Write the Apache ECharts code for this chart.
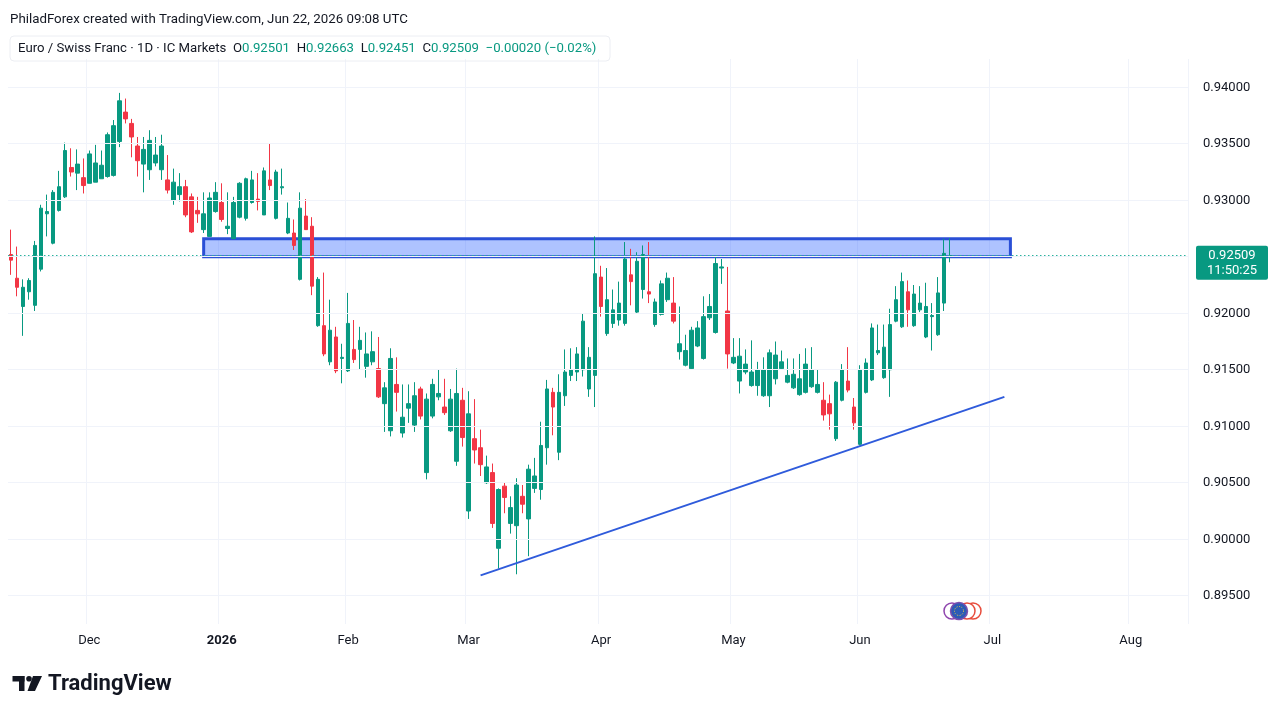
<!DOCTYPE html>
<html>
<head>
<meta charset="utf-8">
<script src="https://cdn.jsdelivr.net/npm/echarts@6/dist/echarts.min.js"></script>
<style>
html,body{margin:0;padding:0;background:#ffffff;}
#chart{width:1280px;height:720px;}
</style>
</head>
<body>
<div id="chart"></div>
<script>
// ---- categories (trading days) ----
const dates = [
'2025-11-12','2025-11-13','2025-11-14','2025-11-17','2025-11-18','2025-11-19','2025-11-20','2025-11-21','2025-11-24','2025-11-25','2025-11-26','2025-11-27','2025-11-28',
'2025-12-01','2025-12-02','2025-12-03','2025-12-04','2025-12-05','2025-12-08','2025-12-09','2025-12-10','2025-12-11','2025-12-12','2025-12-15','2025-12-16','2025-12-17','2025-12-18','2025-12-19','2025-12-22','2025-12-23','2025-12-24','2025-12-26','2025-12-29','2025-12-30','2025-12-31',
'2026-01-02','2026-01-05','2026-01-06','2026-01-07','2026-01-08','2026-01-09','2026-01-12','2026-01-13','2026-01-14','2026-01-15','2026-01-16','2026-01-19','2026-01-20','2026-01-21','2026-01-22','2026-01-23','2026-01-26','2026-01-27','2026-01-28','2026-01-29','2026-01-30',
'2026-02-02','2026-02-03','2026-02-04','2026-02-05','2026-02-06','2026-02-09','2026-02-10','2026-02-11','2026-02-12','2026-02-13','2026-02-16','2026-02-17','2026-02-18','2026-02-19','2026-02-20','2026-02-23','2026-02-24','2026-02-25','2026-02-26','2026-02-27',
'2026-03-02','2026-03-03','2026-03-04','2026-03-05','2026-03-06','2026-03-09','2026-03-10','2026-03-11','2026-03-12','2026-03-13','2026-03-16','2026-03-17','2026-03-18','2026-03-19','2026-03-20','2026-03-23','2026-03-24','2026-03-25','2026-03-26','2026-03-27','2026-03-30','2026-03-31',
'2026-04-01','2026-04-02','2026-04-03','2026-04-06','2026-04-07','2026-04-08','2026-04-09','2026-04-10','2026-04-13','2026-04-14','2026-04-15','2026-04-16','2026-04-17','2026-04-20','2026-04-21','2026-04-22','2026-04-23','2026-04-24','2026-04-27','2026-04-28','2026-04-29','2026-04-30',
'2026-05-01','2026-05-04','2026-05-05','2026-05-06','2026-05-07','2026-05-08','2026-05-11','2026-05-12','2026-05-13','2026-05-14','2026-05-15','2026-05-18','2026-05-19','2026-05-20','2026-05-21','2026-05-22','2026-05-25','2026-05-26','2026-05-27','2026-05-28','2026-05-29',
'2026-06-01','2026-06-02','2026-06-03','2026-06-04','2026-06-05','2026-06-08','2026-06-09','2026-06-10','2026-06-11','2026-06-12','2026-06-15','2026-06-16','2026-06-17','2026-06-18','2026-06-19','2026-06-22'
];
const futureDates = [
'2026-06-23','2026-06-24','2026-06-25','2026-06-26','2026-06-29','2026-06-30',
'2026-07-01','2026-07-02','2026-07-03','2026-07-06','2026-07-07','2026-07-08','2026-07-09','2026-07-10','2026-07-13','2026-07-14','2026-07-15','2026-07-16','2026-07-17','2026-07-20','2026-07-21','2026-07-22','2026-07-23','2026-07-24','2026-07-27','2026-07-28','2026-07-29','2026-07-30','2026-07-31',
'2026-08-03','2026-08-04','2026-08-05','2026-08-06','2026-08-07','2026-08-10','2026-08-11','2026-08-12','2026-08-13','2026-08-14'
];

// ---- OHLC values ----
const opens = [
.9252,.9231,.9206,.9219,.9207,.9239,.9288,.9262,.9291,.9303,.9329,.9324,.9320,
.9315,.9316,.9319,.9321,.9322,.9352,.9378,.9368,.9348,.9332,.9327,.9333,.9327,.9318,.9300,.9305,.9312,.9303,.9291,.9274,.9268,.9290,
.9298,.9275,.9266,.9285,.9284,.9298,.9301,.9287,.9318,.9284,.9311,.9271,.9271,.9230,.9286,.9277,.9189,.9189,.9157,.9179,.9160,
.9149,.9168,.9168,.9153,.9157,.9151,.9120,.9096,.9137,.9094,.9116,.9101,.9133,.9059,.9109,.9126,.9117,.9096,.9069,.9123,
.9025,.9089,.9081,.9050,.9059,.8992,.9047,.9014,.9012,.9038,.9018,.9045,.9044,.9081,.9130,.9077,.9127,.9145,.9148,.9150,.9133,.9145,
.9232,.9182,.9191,.9194,.9191,.9234,.9201,.9221,.9219,.9190,.9199,.9212,.9209,.9166,.9154,.9151,.9171,.9160,.9196,.9183,.9240,.9202,
.9156,.9140,.9148,.9136,.9136,.9127,.9127,.9142,.9151,.9139,.9134,.9128,.9130,.9135,.9130,.9123,.9120,.9089,.9123,.9140,.9117,
.9084,.9130,.9141,.9165,.9143,.9150,.9193,.9188,.9219,.9189,.9203,.9179,.9197,.9181,.9209,.92501
];
const closes = [
.9247,.9223,.9223,.9229,.9260,.9293,.9290,.9307,.9312,.9344,.9325,.9332,.9313,
.9341,.9333,.9331,.9358,.9366,.9388,.9372,.9356,.9335,.9345,.9353,.9340,.9348,.9309,.9316,.9312,.9287,.9272,.9288,.9288,.9302,.9307,
.9283,.9277,.9298,.9315,.9319,.9318,.9299,.9326,.9313,.9325,.9312,.9284,.9260,.9293,.9274,.9224,.9230,.9164,.9185,.9149,.9161,
.9191,.9159,.9176,.9164,.9166,.9126,.9134,.9160,.9130,.9108,.9120,.9127,.9109,.9124,.9137,.9129,.9112,.9124,.9129,.9090,
.9111,.9079,.9066,.9064,.9014,.9044,.9037,.9028,.9048,.9031,.9062,.9056,.9083,.9133,.9117,.9130,.9148,.9150,.9164,.9193,.9161,.9235,
.9206,.9212,.9203,.9209,.9248,.9228,.9246,.9252,.9217,.9210,.9226,.9231,.9193,.9173,.9167,.9185,.9187,.9197,.9206,.9244,.9241,.9164,
.9161,.9162,.9155,.9148,.9150,.9150,.9165,.9163,.9157,.9145,.9146,.9142,.9155,.9150,.9137,.9110,.9111,.9139,.9150,.9132,.9103,
.9150,.9156,.9187,.9167,.9170,.9190,.9212,.9228,.9203,.9217,.9209,.9206,.9198,.9218,.9253,.92509
];
const lows = [
.9234,.9215,.9180,.9212,.9202,.9237,.9268,.9261,.9290,.9302,.9321,.9309,.9306,
.9315,.9316,.9319,.9320,.9321,.9347,.9368,.9338,.9321,.9307,.9318,.9330,.9318,.9306,.9296,.9299,.9285,.9271,.9280,.9271,.9268,.9289,
.9281,.9270,.9266,.9284,.9282,.9297,.9291,.9287,.9309,.9283,.9305,.9270,.9256,.9229,.9274,.9216,.9188,.9162,.9154,.9147,.9138,
.9148,.9156,.9150,.9143,.9154,.9125,.9095,.9091,.9113,.9090,.9103,.9095,.9106,.9053,.9107,.9123,.9110,.9095,.9065,.9082,
.9018,.9067,.9056,.9049,.9010,.8974,.9023,.9005,.8969,.9023,.8985,.9041,.9035,.9066,.9092,.9070,.9118,.9140,.9140,.9144,.9126,.9117,
.9197,.9180,.9187,.9189,.9189,.9207,.9200,.9213,.9209,.9188,.9198,.9210,.9191,.9159,.9153,.9150,.9170,.9159,.9194,.9182,.9226,.9151,
.9155,.9129,.9146,.9135,.9127,.9126,.9117,.9137,.9150,.9138,.9133,.9127,.9129,.9134,.9129,.9105,.9097,.9087,.9122,.9130,.9097,
.9083,.9129,.9140,.9163,.9142,.9126,.9192,.9187,.9188,.9188,.9201,.9178,.9167,.9180,.9202,.92451
];
const highs = [
.9274,.9259,.9230,.9231,.9264,.9296,.9305,.9309,.9326,.9351,.9346,.9345,.9337,
.9344,.9349,.9344,.9360,.9371,.9395,.9390,.9372,.9356,.9356,.9362,.9356,.9358,.9340,.9328,.9324,.9318,.9306,.9303,.9307,.9307,.9316,
.9315,.9307,.9303,.9316,.9320,.9326,.9324,.9329,.9350,.9327,.9328,.9298,.9283,.9307,.9301,.9285,.9232,.9236,.9212,.9188,.9173,
.9218,.9194,.9188,.9183,.9184,.9179,.9139,.9169,.9161,.9137,.9137,.9139,.9135,.9129,.9142,.9150,.9142,.9133,.9151,.9134,
.9131,.9124,.9097,.9074,.9067,.9045,.9050,.9038,.9054,.9048,.9066,.9072,.9104,.9141,.9134,.9146,.9168,.9169,.9170,.9200,.9170,.9268,
.9242,.9240,.9221,.9228,.9263,.9257,.9254,.9260,.9263,.9213,.9229,.9236,.9232,.9206,.9181,.9188,.9193,.9215,.9217,.9250,.9248,.9241,
.9178,.9178,.9168,.9176,.9157,.9161,.9168,.9175,.9167,.9160,.9160,.9164,.9169,.9170,.9150,.9139,.9128,.9140,.9155,.9170,.9125,
.9154,.9160,.9191,.9190,.9190,.9204,.9224,.9236,.9229,.9225,.9224,.9227,.9209,.9232,.9266,.92663
];

// ---- tick labels ----
const monthStarts = ['2025-12-01','2026-01-02','2026-02-02','2026-03-02','2026-04-01','2026-05-01','2026-06-01','2026-07-01','2026-08-03'];
const monthLabels = ['Dec','2026','Feb','Mar','Apr','May','Jun','Jul','Aug'];
const priceTicks = [0.895,0.900,0.905,0.910,0.915,0.920,0.925,0.930,0.935,0.940];

// ---- annotations (data space) ----
const lastPrice = 0.92509;
const countdown = '11:50:25';
const zoneStart = '2025-12-29', zoneEnd = '2026-07-06';
const zoneTop = 0.9266, zoneBottom = 0.9250;
const trendStart = ['2026-03-04', 0.8968];
const trendEnd = ['2026-07-03', 0.9126];

const headerText = 'PhiladForex created with TradingView.com, Jun 22, 2026 09:08 UTC';
const symbolText = 'Euro / Swiss Franc · 1D · IC Markets';
const ohlcText = ['0.92501','0.92663','0.92451','0.92509'];
const changeText = '−0.00020 (−0.02%)';

const UP = '#089981', DOWN = '#f23645';
const FONT = 'Roboto, "Noto Sans", sans-serif';

const allDates = dates.concat(futureDates);
const candleData = dates.map((d, i) => [opens[i], closes[i], lows[i], highs[i]]);
const monthMap = {};
monthStarts.forEach((d, i) => { monthMap[d] = monthLabels[i]; });
const isMonthStart = (idx, val) => monthMap[val] !== undefined;

const gridLines = priceTicks.map(p => ({yAxis: p, lineStyle: {color: '#f0f3fa', width: 1, type: 'solid'}}));
gridLines.push({yAxis: lastPrice, lineStyle: {color: '#2bb39c', width: 1, type: [1.5, 2.5]}});

const chart = echarts.init(document.getElementById('chart'), null, {renderer: 'canvas'});
chart.setOption({
  animation: false,
  backgroundColor: '#ffffff',
  grid: {left: 8, right: 92, top: 59, bottom: 96},
  xAxis: {
    type: 'category',
    data: allDates,
    boundaryGap: true,
    axisLine: {show: false},
    axisTick: {show: false},
    axisLabel: {
      interval: isMonthStart,
      margin: 10,
      fontFamily: FONT,
      fontSize: 13,
      color: '#131722',
      formatter: v => v === '2026-01-02' ? '{b|2026}' : (monthMap[v] || ''),
      rich: {b: {fontWeight: 'bold', fontFamily: FONT, fontSize: 13, color: '#131722'}}
    },
    splitLine: {show: true, interval: isMonthStart, lineStyle: {color: '#f0f3fa', width: 1}}
  },
  yAxis: {
    type: 'value',
    position: 'right',
    min: 0.8925,
    max: 0.9425,
    interval: 0.0025,
    axisLine: {show: false},
    axisTick: {show: false},
    splitLine: {show: false},
    axisLabel: {
      margin: 15,
      fontFamily: FONT,
      fontSize: 13,
      color: '#131722',
      formatter: v => (Math.round(v * 10000) % 50 === 0) ? v.toFixed(5) : ''
    }
  },
  series: [
    {
      type: 'line',
      data: [],
      z: 1,
      silent: true,
      markLine: {
        silent: true,
        precision: 6,
        symbol: ['none', 'none'],
        label: {show: false},
        data: gridLines
      }
    },
    {
      type: 'candlestick',
      data: candleData,
      barWidth: '68%',
      z: 3,
      itemStyle: {color: UP, color0: DOWN, borderColor: UP, borderColor0: DOWN, borderWidth: 1},
      markArea: {
        silent: true,
        itemStyle: {color: 'rgba(41,98,255,0.38)', borderColor: '#2a4fd6', borderWidth: 3},
        data: [[{coord: [zoneStart, zoneTop]}, {coord: [zoneEnd, zoneBottom]}]]
      },
      markLine: {
        silent: true,
        precision: 6,
        symbol: ['none', 'none'],
        label: {show: false},
        data: [
          [{coord: trendStart, lineStyle: {color: '#2f5bdb', width: 2, type: 'solid'}}, {coord: trendEnd}]
        ]
      }
    }
  ]
});

const py = chart.convertToPixel({yAxisIndex: 0}, lastPrice);
chart.setOption({
  graphic: [
    {type: 'text', left: 10, top: 13, style: {text: headerText, font: '13.3px ' + FONT, fill: '#131722'}},
    {type: 'rect', shape: {x: 10, y: 36, width: 600, height: 25, r: 4}, style: {fill: 'none', stroke: '#eceef3', lineWidth: 1}},
    {type: 'text', x: 18, y: 48.5, style: {
      text: '{s|' + symbolText + '}  {s|O}{g|' + ohlcText[0] + '}  {s|H}{g|' + ohlcText[1] + '}  {s|L}{g|' + ohlcText[2] + '}  {s|C}{g|' + ohlcText[3] + '}  {g|' + changeText + '}',
      verticalAlign: 'middle',
      rich: {
        s: {font: '13.2px ' + FONT, fill: '#131722'},
        g: {font: '13.2px ' + FONT, fill: UP}
      }
    }},
    {type: 'rect', z: 100, shape: {x: 1196, y: py - 10, width: 72, height: 34, r: 2}, style: {fill: UP}},
    {type: 'text', z: 101, x: 1232, y: py, style: {text: lastPrice.toFixed(5), font: '13px ' + FONT, fill: '#ffffff', align: 'center', verticalAlign: 'middle'}},
    {type: 'text', z: 101, x: 1232, y: py + 15, style: {text: countdown, font: '13px ' + FONT, fill: '#ffffff', align: 'center', verticalAlign: 'middle'}},
    // event icons on time scale
    {type: 'circle', shape: {cx: 973, cy: 611, r: 8}, style: {fill: '#ffffff', stroke: '#e74c3c', lineWidth: 1.5}},
    {type: 'circle', shape: {cx: 967, cy: 611, r: 8}, style: {fill: '#ffffff', stroke: '#e74c3c', lineWidth: 1.5}},
    {type: 'circle', shape: {cx: 952, cy: 611, r: 8}, style: {fill: '#ffffff', stroke: '#8e44ad', lineWidth: 1.5}},
    {type: 'circle', shape: {cx: 959, cy: 611, r: 8.5}, style: {fill: '#2d5bb5', stroke: '#7d4fae', lineWidth: 1.5}},
    {type: 'circle', shape: {cx: 959, cy: 611, r: 4.5}, style: {fill: 'none', stroke: '#f4d03f', lineWidth: 1, lineDash: [1, 1.6]}},
    // TradingView logo
    {type: 'rect', shape: {x: 12.5, y: 676, width: 12, height: 5.5}, style: {fill: '#131722'}},
    {type: 'rect', shape: {x: 19, y: 676, width: 5.5, height: 15}, style: {fill: '#131722'}},
    {type: 'circle', shape: {cx: 29, cy: 678.8, r: 2.8}, style: {fill: '#131722'}},
    {type: 'polygon', shape: {points: [[33, 676], [42, 676], [35, 691], [27.5, 691]]}, style: {fill: '#131722'}},
    {type: 'text', x: 48, y: 684, style: {text: 'TradingView', font: 'bold 22px ' + FONT, fill: '#131722', verticalAlign: 'middle'}}
  ]
});
</script>
</body>
</html>
